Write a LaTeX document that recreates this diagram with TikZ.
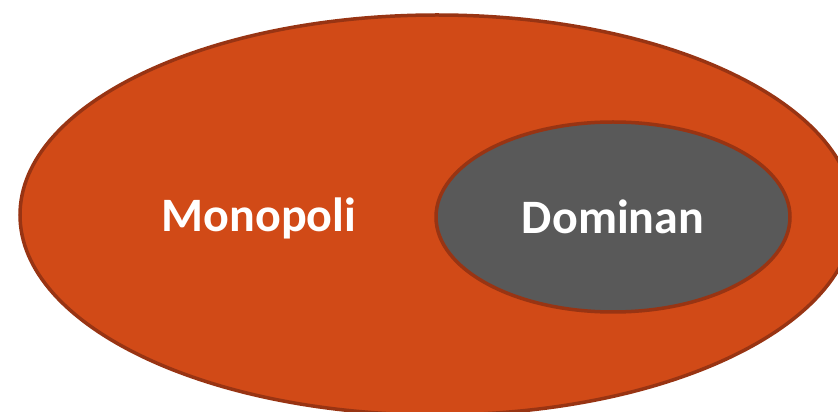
\documentclass[tikz,border=0pt]{standalone}
\usepackage{fontspec}
\setmainfont{Carlito}
\usetikzlibrary{positioning,shapes}
\definecolor{monofill}{HTML}{D14A17}
\definecolor{monoedge}{HTML}{983413}
\definecolor{domfill}{HTML}{595959}
\begin{document}
\begin{tikzpicture}[x=1pt,y=1pt,set/.style={ellipse,draw=monoedge,line width=3.5pt,inner sep=0pt},lbl/.style={text=white,font=\fontsize{48}{48}\selectfont\bfseries}]
  \useasboundingbox (0,0) rectangle (838,412);
  \clip (0,0) rectangle (838,412);
  \node[set,fill=monofill,minimum width=834pt,minimum height=400pt] (mono) at (437,197) {};
  \node[set,fill=domfill,minimum width=354pt,minimum height=190pt] (dom) at (613,195) {};
  \node[lbl] (monolbl) at (259,194) {Monopoli};
  \node[lbl] (domlbl) at (dom.center) {Dominan};
 \end{tikzpicture}
\end{document}
